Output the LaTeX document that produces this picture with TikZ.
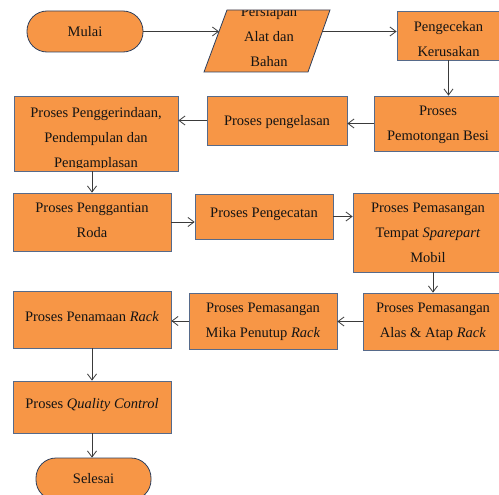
\documentclass[tikz,border=0pt]{standalone}
\usepackage{fontspec}
\setmainfont{Liberation Serif}
\usetikzlibrary{arrows.meta}
\definecolor{orng}{HTML}{F79646}
\definecolor{bord}{HTML}{566A8A}
\definecolor{tbord}{HTML}{2E3F5C}
\definecolor{lnc}{HTML}{3A3A3A}
\begin{document}
\begin{tikzpicture}[x=1pt,y=-1pt,
  txt/.style={font=\fontsize{14.5}{25}\selectfont, align=center, text=black!92, inner sep=0pt},
  pbox/.style={draw=bord, fill=orng, line width=0.8pt, rectangle, inner sep=0pt},
  term/.style={draw=tbord, fill=orng, line width=0.8pt, rectangle, rounded corners=20pt, inner sep=0pt},
  tx/.style 2 args={path picture={\node[txt] at ([yshift=#1]path picture bounding box.center) {#2};}},
  txc/.style 2 args={path picture={\clip ([yshift=-3.6pt]path picture bounding box.north west) rectangle ([yshift=3.6pt]path picture bounding box.south east);
     \node[txt] at ([yshift=#1]path picture bounding box.center) {#2};}},
  arr/.style={draw=lnc, line width=0.8pt, -{Straight Barb[length=6pt,width=9pt]}}
]
\useasboundingbox (0,0) rectangle (499,495);
\clip (0,0) rectangle (499,495);

% terminals
\node[term, minimum width=116pt, minimum height=41pt, tx={0pt}{Mulai}] (mulai) at (85,31.5) {};
\node[term, minimum width=115pt, minimum height=42pt, tx={0pt}{Selesai}] (selesai) at (93.5,479) {};

% parallelogram (input)
\coordinate (ptl) at (227,10);
\coordinate (ptr) at (330,10);
\coordinate (pbr) at (308,72);
\coordinate (pbl) at (204,72);
\coordinate (pl) at (219,31.5);
\coordinate (pr) at (322.4,31.5);
\begin{scope}
  \fill[orng] (ptl) -- (ptr) -- (pbr) -- (pbl) -- cycle;
  \clip (ptl) -- (ptr) -- (pbr) -- (pbl) -- cycle;
  \node[txt] (prs) at (269,36.5) {Persiapan\\Alat dan\\Bahan};
\end{scope}
\draw[tbord, line width=0.8pt] (ptl) -- (ptr) -- (pbr) -- (pbl) -- cycle;

% process boxes
\node[pbox, minimum width=103pt, minimum height=49pt, tx={-3.5pt}{Pengecekan\\Kerusakan}] (cek) at (448.5,35.5) {};
\node[pbox, minimum width=128pt, minimum height=55pt, tx={-1pt}{Proses\\Pemotongan Besi}] (potong) at (438,123.5) {};
\node[pbox, minimum width=140pt, minimum height=49pt, tx={-1.5pt}{Proses pengelasan}] (las) at (277,120.5) {};
\node[pbox, minimum width=164pt, minimum height=75pt, txc={-5.5pt}{Proses Penggerindaan,\\Pendempulan dan\\Pengamplasan}] (gerinda) at (96,133.5) {};
\node[pbox, minimum width=158pt, minimum height=58pt, tx={1.5pt}{Proses Penggantian\\Roda}] (ganti) at (92,222) {};
\node[pbox, minimum width=138pt, minimum height=45pt, tx={2.5pt}{Proses Pengecatan}] (cat) at (264,216.5) {};
\node[pbox, minimum width=150pt, minimum height=79pt, tx={-0.5pt}{Proses Pemasangan\\Tempat \textit{Sparepart}\\Mobil}] (tempat) at (428,232.5) {};
\node[pbox, minimum width=140pt, minimum height=57pt, tx={0pt}{Proses Pemasangan\\Alas \& Atap \textit{Rack}}] (alas) at (433,321.5) {};
\node[pbox, minimum width=148pt, minimum height=56pt, tx={-0.5pt}{Proses Pemasangan\\Mika Penutup \textit{Rack}}] (mika) at (263,321) {};
\node[pbox, minimum width=158pt, minimum height=57pt, tx={2.5pt}{Proses Penamaan \textit{Rack}}] (nama) at (92,319.5) {};
\node[pbox, minimum width=158pt, minimum height=52pt, tx={2pt}{Proses \textit{Quality Control}}] (qc) at (92,407) {};

% connectors
\draw[arr] (mulai.east) -- (pl);
\draw[arr] (pr) -- (pr -| cek.west);
\draw[arr] (cek.south) -- (cek.south |- potong.north);
\draw[arr] (potong.west) -- (potong.west -| las.east);
\draw[arr] (las.west) -- (las.west -| gerinda.east);
\draw[arr] (ganti.north |- gerinda.south) -- (ganti.north);
\draw[arr] (ganti.east) -- (ganti.east -| cat.west);
\draw[arr] (cat.east) -- (cat.east -| tempat.west);
\draw[arr] (alas.north |- tempat.south) -- (alas.north);
\draw[arr] (alas.west) -- (alas.west -| mika.east);
\draw[arr] (mika.west) -- (mika.west -| nama.east);
\draw[arr] (nama.south) -- (qc.north);
\draw[arr] (qc.south) -- (qc.south |- selesai.north);
\end{tikzpicture}
\end{document}
